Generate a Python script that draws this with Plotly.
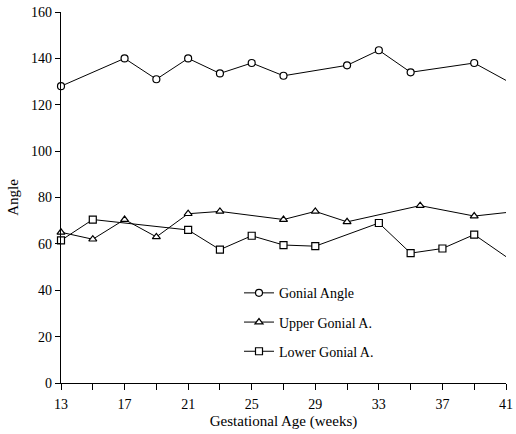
import plotly.graph_objects as go

gonial_x = [13, 17, 19, 21, 23, 25, 27, 31, 33, 35, 39]
gonial_y = [128, 140, 131, 140, 133.5, 138, 132.5, 137, 143.5, 134, 138]
gonial_end_x = [39, 41]
gonial_end_y = [138, 130.5]

upper_x = [13, 15, 17, 19, 21, 23, 27, 29, 31, 35.6, 39]
upper_y = [65, 62, 70.5, 63, 73, 74, 70.5, 74, 69.5, 76.5, 72]
upper_end_x = [39, 41]
upper_end_y = [72, 73.5]

lower_x = [13, 15, 21, 23, 25, 27, 29, 33, 35, 37, 39]
lower_y = [61.5, 70.5, 66, 57.5, 63.5, 59.5, 59, 69, 56, 58, 64]
lower_end_x = [39, 41]
lower_end_y = [64, 54.5]

x_ticks = [13, 17, 21, 25, 29, 33, 37, 41]
y_ticks = [0, 20, 40, 60, 80, 100, 120, 140, 160]

FONT = "Liberation Serif"
mk = dict(size=7, color="white", line=dict(color="black", width=1.2))
ln = dict(color="black", width=1)

fig = go.Figure()
for name, xs, ys, ex, ey, sym in [
    ("Gonial Angle", gonial_x, gonial_y, gonial_end_x, gonial_end_y, "circle"),
    ("Upper Gonial A.", upper_x, upper_y, upper_end_x, upper_end_y, "triangle-up"),
    ("Lower Gonial A.", lower_x, lower_y, lower_end_x, lower_end_y, "square"),
]:
    fig.add_trace(go.Scatter(x=ex, y=ey, mode="lines", line=ln, showlegend=False,
                             cliponaxis=False, hoverinfo="skip"))
    fig.add_trace(go.Scatter(x=xs, y=ys, mode="lines+markers", name=name,
                             legendgroup=name,
                             line=ln, marker=dict(symbol=sym, **mk), cliponaxis=False))

fig.update_layout(
    width=516, height=434,
    margin=dict(l=61, r=10, t=12, b=51),
    paper_bgcolor="white", plot_bgcolor="white",
    font=dict(family=FONT, size=14, color="black"),
    showlegend=True,
    legend=dict(x=0.40, y=0.285, xanchor="left", yanchor="top",
                bgcolor="rgba(0,0,0,0)", font=dict(family=FONT, size=14),
                itemwidth=30, tracegroupgap=8),
    xaxis=dict(range=[13, 41], tickvals=x_ticks, ticktext=[str(v) for v in x_ticks],
               showgrid=False, zeroline=False, showline=True, linecolor="black",
               linewidth=1.2, ticks="outside", ticklen=6, tickcolor="black",
               ticklabelstandoff=2, automargin=False,
               minor=dict(dtick=2, tick0=13, ticks="outside", ticklen=6, tickcolor="black"),
               title=dict(text="Gestational Age (weeks)", standoff=4,
                          font=dict(family=FONT, size=15))),
    yaxis=dict(range=[0, 160], tickvals=y_ticks, showgrid=False, zeroline=False,
               showline=True, linecolor="black", linewidth=1.2, ticks="outside",
               ticklen=5, tickcolor="black", automargin=False,
               title=dict(text="Angle", standoff=8, font=dict(family=FONT, size=15))),
)

fig.write_html("out.html")
